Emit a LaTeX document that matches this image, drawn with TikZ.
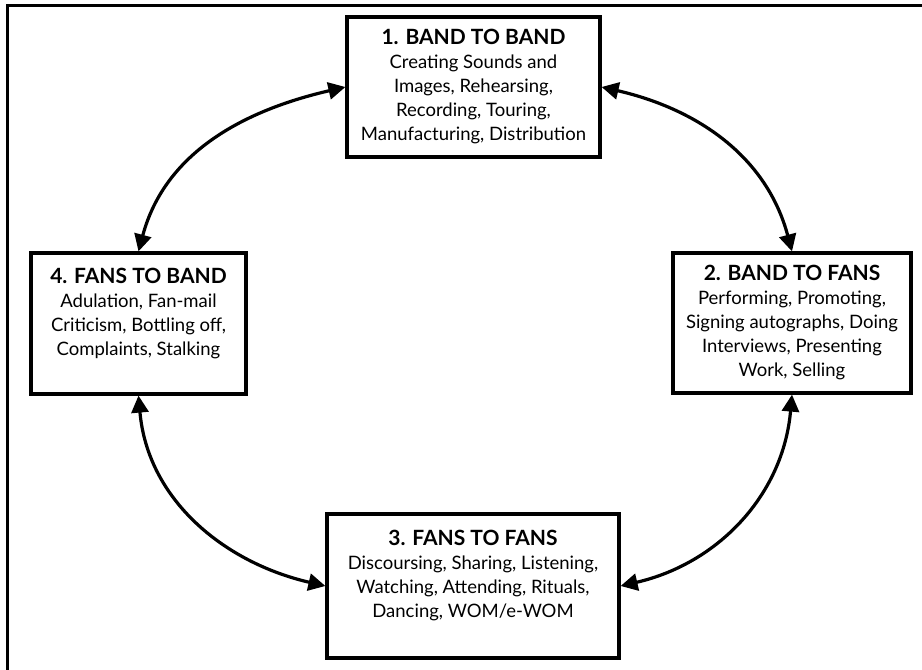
\documentclass[tikz,border=0pt]{standalone}
\usepackage{fontspec}
\setmainfont{Lato}
\usetikzlibrary{arrows.meta}

\newcommand{\boxtitle}[1]{{\fontsize{21}{24}\selectfont\bfseries #1}}

\begin{document}
\begin{tikzpicture}[
            x = 1pt, y = 1pt,
            every node/.style = {draw, line width = 3.2pt, align = center,
                font = \fontsize{18.5}{24}\selectfont, inner sep = 6pt},
            link/.style = {line width = 3.2pt,
                {Triangle[length = 17pt, width = 17pt]}-{Triangle[length = 17pt, width = 17pt]}}]
            \useasboundingbox (0,0) rectangle (922,670);
            % frame (top and left only)
            \draw[line width = 3pt] (7,0) -- (7,664) -- (922,664);
            \node[minimum width = 253pt, minimum height = 140pt] (bb) at (473.5,583)
                {\boxtitle{1. BAND TO BAND}\\ Creating Sounds and\\
                 Images, Rehearsing,\\ Recording, Touring,\\ Manufacturing, Distribution};
            \node[minimum width = 238pt, minimum height = 140pt] (bf) at (792,347)
                {\boxtitle{2. BAND TO FANS}\\ Performing, Promoting,\\
                 Signing autographs, Doing\\ Interviews, Presenting\\ Work, Selling};
            \node[minimum width = 292pt, minimum height = 144pt] (ff) at (473,84)
                {\boxtitle{3. FANS TO FANS}\\ Discoursing, Sharing, Listening,\\
                 Watching, Attending, Rituals,\\ Dancing, WOM/e-WOM\\ ~};
            \node[minimum width = 215pt, minimum height = 141pt] (fb) at (138.5,346.5)
                {\boxtitle{4. FANS TO BAND}\\ Adulation, Fan-mail\\
                 Criticism, Bottling off,\\ Complaints, Stalking\\ ~};
            \draw[link] (bb.west) to[out = 193, in = 75] (fb.north);
            \draw[link] (bb.east) to[out = -13, in = 105] (bf.north);
            \draw[link] (bf.south) to[out = 265, in = 13] (ff.east);
            \draw[link] (fb.south) to[out = 275, in = 167] (ff.west);
        \end{tikzpicture}
\end{document}
